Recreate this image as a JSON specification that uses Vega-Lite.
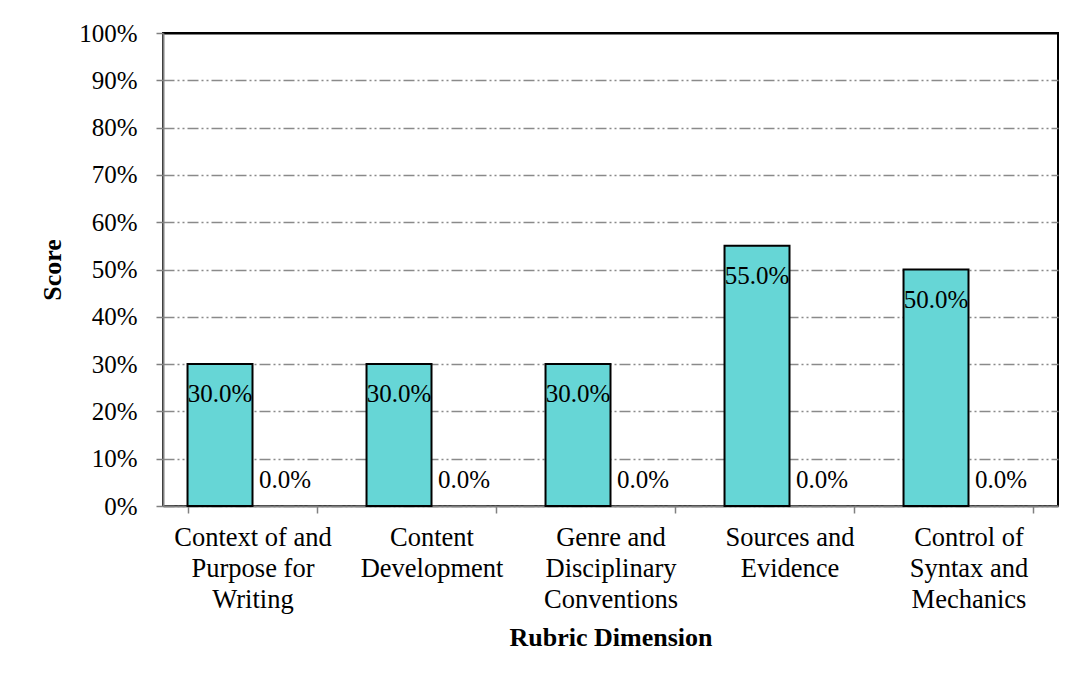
{
  "$schema": "https://vega.github.io/schema/vega-lite/v6.json",
  "autosize": "none",
  "width": 895,
  "height": 473,
  "padding": {"left": 163, "top": 33, "right": 20, "bottom": 175},
  "background": "white",
  "config": {
    "font": "Liberation Serif",
    "view": {"stroke": "black", "strokeWidth": 2},
    "axis": {
      "labelFont": "Liberation Serif",
      "titleFont": "Liberation Serif",
      "labelColor": "black",
      "titleColor": "black",
      "domainColor": "#808080",
      "domainWidth": 2,
      "tickColor": "#808080",
      "tickWidth": 1.5,
      "tickSize": 7
    }
  },
  "data": {
    "values": [
      {"dimension": "Context of and\nPurpose for\nWriting", "series": "Series 1", "score": 0.30},
      {"dimension": "Context of and\nPurpose for\nWriting", "series": "Series 2", "score": 0.0},
      {"dimension": "Content\nDevelopment", "series": "Series 1", "score": 0.30},
      {"dimension": "Content\nDevelopment", "series": "Series 2", "score": 0.0},
      {"dimension": "Genre and\nDisciplinary\nConventions", "series": "Series 1", "score": 0.30},
      {"dimension": "Genre and\nDisciplinary\nConventions", "series": "Series 2", "score": 0.0},
      {"dimension": "Sources and\nEvidence", "series": "Series 1", "score": 0.55},
      {"dimension": "Sources and\nEvidence", "series": "Series 2", "score": 0.0},
      {"dimension": "Control of\nSyntax and\nMechanics", "series": "Series 1", "score": 0.50},
      {"dimension": "Control of\nSyntax and\nMechanics", "series": "Series 2", "score": 0.0}
    ]
  },
  "encoding": {
    "x": {
      "field": "dimension",
      "type": "nominal",
      "sort": null,
      "scale": {"paddingInner": 0.274, "paddingOuter": 0.137},
      "axis": {
        "title": "Rubric Dimension",
        "titleFontSize": 26,
        "titleFontWeight": "bold",
        "titlePadding": 12,
        "labelAngle": 0,
        "labelFontSize": 26.5,
        "labelLineHeight": 31,
        "labelPadding": 11,
        "labelExpr": "split(datum.label, '\\n')",
        "tickBand": "extent",
        "grid": false
      }
    },
    "xOffset": {"field": "series", "type": "nominal", "sort": ["Series 1", "Series 2"]},
    "y": {
      "field": "score",
      "type": "quantitative",
      "scale": {"domain": [0, 1], "nice": false},
      "axis": {
        "title": "Score",
        "titleFontSize": 26,
        "titleFontWeight": "bold",
        "titlePadding": 13,
        "format": ".0%",
        "values": [0, 0.1, 0.2, 0.3, 0.4, 0.5, 0.6, 0.7, 0.8, 0.9, 1.0],
        "labelOverlap": false,
        "labelFontSize": 25,
        "labelPadding": 19,
        "grid": true,
        "gridColor": {"condition": {"test": "datum.value >= 1", "value": "black"}, "value": "#8a8a8a"},
        "gridWidth": {"condition": {"test": "datum.value >= 1", "value": 2}, "value": 1.5},
        "gridDash": {"condition": {"test": "datum.value >= 1", "value": []}, "value": [11, 3, 2, 3, 2, 3]}
      }
    }
  },
  "layer": [
    {
      "mark": {"type": "bar", "strokeWidth": 2},
      "encoding": {
        "fill": {
          "field": "series",
          "type": "nominal",
          "scale": {"domain": ["Series 1", "Series 2"], "range": ["#66D6D6", "#FFFFFF"]},
          "legend": null
        },
        "stroke": {
          "field": "series",
          "type": "nominal",
          "scale": {"domain": ["Series 1", "Series 2"], "range": ["#000000", "transparent"]},
          "legend": null
        }
      }
    },
    {
      "transform": [{"filter": "datum.series === 'Series 1'"}],
      "mark": {"type": "text", "fontSize": 25, "baseline": "alphabetic", "dy": 38, "color": "black"},
      "encoding": {"text": {"field": "score", "type": "quantitative", "format": ".1%"}}
    },
    {
      "transform": [{"filter": "datum.series === 'Series 2'"}],
      "mark": {"type": "text", "fontSize": 25, "baseline": "alphabetic", "dy": -18, "color": "black"},
      "encoding": {"text": {"field": "score", "type": "quantitative", "format": ".1%"}}
    }
  ]
}
